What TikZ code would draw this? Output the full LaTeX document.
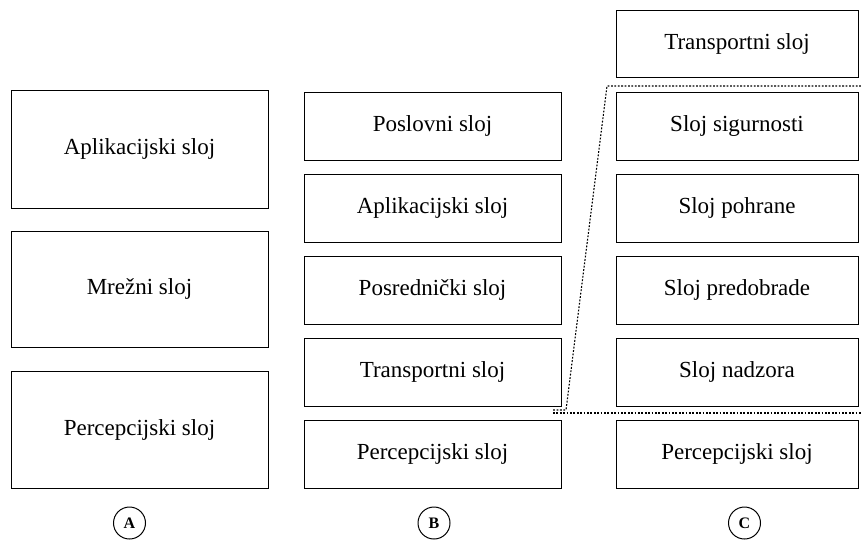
\documentclass[tikz,border=0pt]{standalone}
\usepackage{fontspec}
\setmainfont{Liberation Serif}
\begin{document}
\begin{tikzpicture}[x=1pt,y=-1pt,
  layer/.style={draw=black, line width=1pt, font=\fontsize{23}{26}\selectfont},
  tag/.style={draw=black, circle, line width=1pt, minimum size=32pt, inner sep=0pt, font=\bfseries\fontsize{16}{18}\selectfont},
  dotline/.style={line width=1.1pt, dash pattern=on 1.8pt off 1.6pt}]
\useasboundingbox (0,0) rectangle (861,542);
% Column A
\node[layer, minimum width=257pt, minimum height=118pt] (a1) at (139.5,149) {Aplikacijski sloj};
\node[layer, minimum width=257pt, minimum height=116pt] (a2) at (139.5,289) {Mrežni sloj};
\node[layer, minimum width=257pt, minimum height=117pt] (a3) at (139.5,429.5) {Percepcijski sloj};
% Column B
\node[layer, minimum width=257pt, minimum height=68pt] (b1) at (432.5,126) {Poslovni sloj};
\node[layer, minimum width=257pt, minimum height=68pt] (b2) at (432.5,208) {Aplikacijski sloj};
\node[layer, minimum width=257pt, minimum height=68pt] (b3) at (432.5,290) {Posrednički sloj};
\node[layer, minimum width=257pt, minimum height=68pt] (b4) at (432.5,372) {Transportni sloj};
\node[layer, minimum width=257pt, minimum height=68pt] (b5) at (432.5,454) {Percepcijski sloj};
% Column C
\node[layer, minimum width=242pt, minimum height=67pt] (c0) at (737,43.5) {Transportni sloj};
\node[layer, minimum width=242pt, minimum height=68pt] (c1) at (737,126) {Sloj sigurnosti};
\node[layer, minimum width=242pt, minimum height=68pt] (c2) at (737,208) {Sloj pohrane};
\node[layer, minimum width=242pt, minimum height=68pt] (c3) at (737,290) {Sloj predobrade};
\node[layer, minimum width=242pt, minimum height=68pt] (c4) at (737,372) {Sloj nadzora};
\node[layer, minimum width=242pt, minimum height=68pt] (c5) at (737,454) {Percepcijski sloj};
% dotted bracket
\coordinate (d1) at (861,86);
\coordinate (d2) at (607,86);
\coordinate (d3) at (566,410);
\coordinate (d4) at (553,410);
\coordinate (d5) at (553,413);
\coordinate (d6) at (861,413);
\draw[dotline] (d1) -- (d2) -- (d3) -- (d4);
\draw[dotline] (d5) -- (d6);
% tags
\node[tag] (ta) at (129.5,523) {A};
\node[tag] (tb) at (434,523) {B};
\node[tag] (tc) at (744.5,523) {C};
\end{tikzpicture}
\end{document}
